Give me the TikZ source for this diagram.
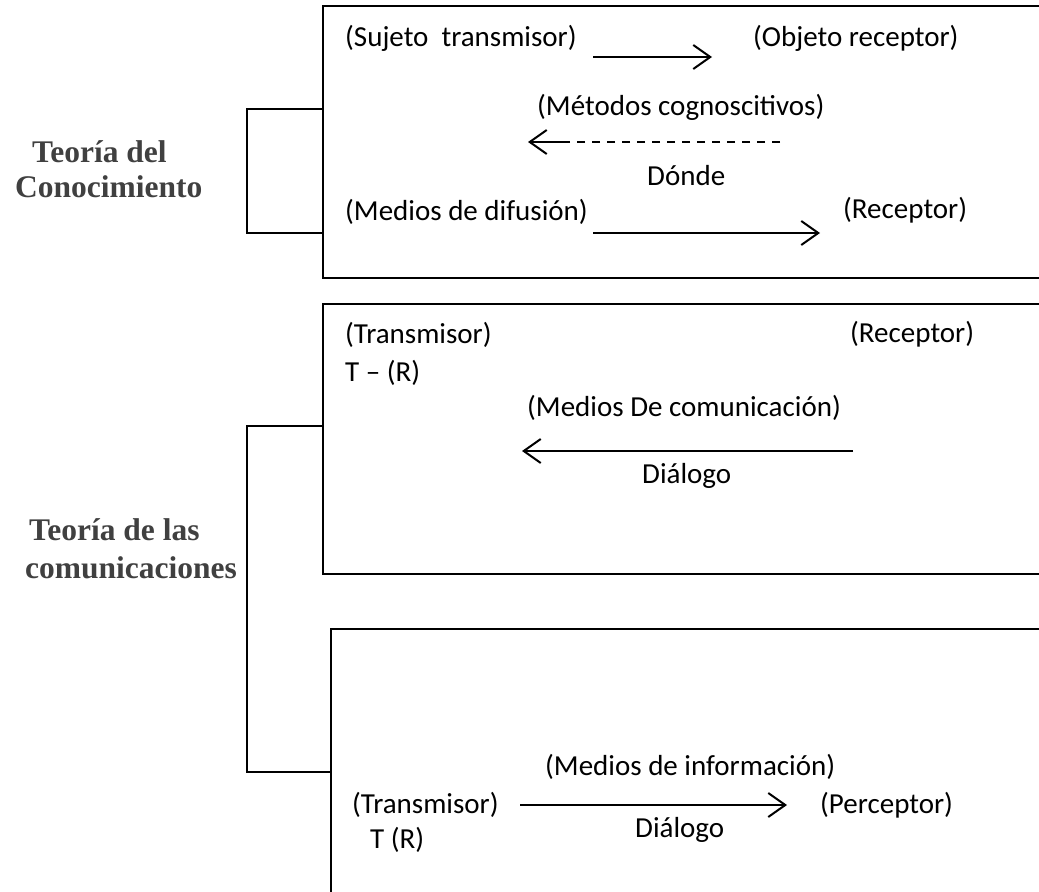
\documentclass[tikz,border=0pt]{standalone}
\usepackage{fontspec}
\setmainfont{Carlito}
\newfontfamily\labelfont{Liberation Serif}
\usetikzlibrary{arrows.meta}
\definecolor{labelgray}{RGB}{64,64,64}
\tikzset{
  x=1bp, y=-1bp,
  txt/.style={anchor=base west, inner sep=0pt, font=\fontsize{29bp}{33bp}\selectfont},
  lbl/.style={anchor=base west, inner sep=0pt, text=labelgray, font=\labelfont\bfseries\fontsize{31.5bp}{36bp}\selectfont},
  arr/.style={line width=2bp, -{Straight Barb[length=17bp,width=24bp,line width=2bp]}},
  thickbox/.style={line width=2.2bp},
  thinbox/.style={line width=1.4bp},
  brk/.style={line width=1.4bp},
}
\begin{document}
\begin{tikzpicture}
\useasboundingbox (0,0) rectangle (1039,892);
\clip (0,0) rectangle (1039,892);

% ---------- Box 1 ----------
\draw[thickbox] (1050,6) -- (323,6) -- (323,278) -- (1050,278);
\coordinate (b1top) at (323,109);
\coordinate (b1bot) at (323,233);
\draw[brk] (b1top) -- (247,109) -- (247,233) -- (b1bot);

\node[txt] (sujeto) at (345,46) {(Sujeto\ \ transmisor)};
\node[txt] (objeto) at (753,46) {(Objeto receptor)};
\coordinate (a1s) at (593,57);
\coordinate (a1e) at (712,57);
\draw[arr] (a1s) -- (a1e);

\node[txt] (metodos) at (537,115) {(Métodos cognoscitivos)};
\coordinate (d1s) at (780,142);
\coordinate (d1m) at (566,142);
\coordinate (d1e) at (528,142);
\draw[line width=1.3bp, dash pattern=on 8bp off 7bp] (d1s) -- (d1m);
\draw[arr] (d1m) -- (d1e);
\node[txt] (donde) at (647,185) {Dónde};

\node[txt] (difusion) at (345,220) {(Medios de difusión)};
\node[txt] (receptor1) at (843,218) {(Receptor)};
\coordinate (a2s) at (593,233);
\coordinate (a2e) at (820,233);
\draw[arr] (a2s) -- (a2e);

% ---------- Box 2 ----------
\draw[thinbox] (1050,304) -- (323,304) -- (323,574) -- (1050,574);
\node[txt] (transm2) at (345,343) {(Transmisor)};
\node[txt] (tr2) at (345,381) {T – (R)};
\node[txt] (receptor2) at (850,342) {(Receptor)};
\node[txt] (comun) at (527,416) {(Medios De comunicación)};
\coordinate (a3s) at (853,451);
\coordinate (a3e) at (522,451);
\draw[arr] (a3s) -- (a3e);
\node[txt] (dialogo2) at (642,483) {Diálogo};

% ---------- Box 3 ----------
\draw[thinbox] (1050,629) -- (331,629) -- (331,900);
\coordinate (b2top) at (323,426);
\coordinate (b3mid) at (331,772);
\draw[brk] (b2top) -- (247,426) -- (247,772) -- (b3mid);

\node[txt] (info) at (545,775) {(Medios de información)};
\node[txt] (transm3) at (352,813) {(Transmisor)};
\node[txt] (perceptor) at (820,813) {(Perceptor)};
\node[txt] (tr3) at (370,848) {T (R)};
\node[txt] (dialogo3) at (635,837) {Diálogo};
\coordinate (a4s) at (520,805);
\coordinate (a4e) at (787,805);
\draw[arr] (a4s) -- (a4e);

% ---------- Labels ----------
\node[lbl] (l1a) at (32,162) {Teoría del};
\node[lbl] (l1b) at (15,197) {Conocimiento};
\node[lbl] (l2a) at (29,540) {Teoría de las};
\node[lbl] (l2b) at (25,578) {comunicaciones};
\end{tikzpicture}
\end{document}
